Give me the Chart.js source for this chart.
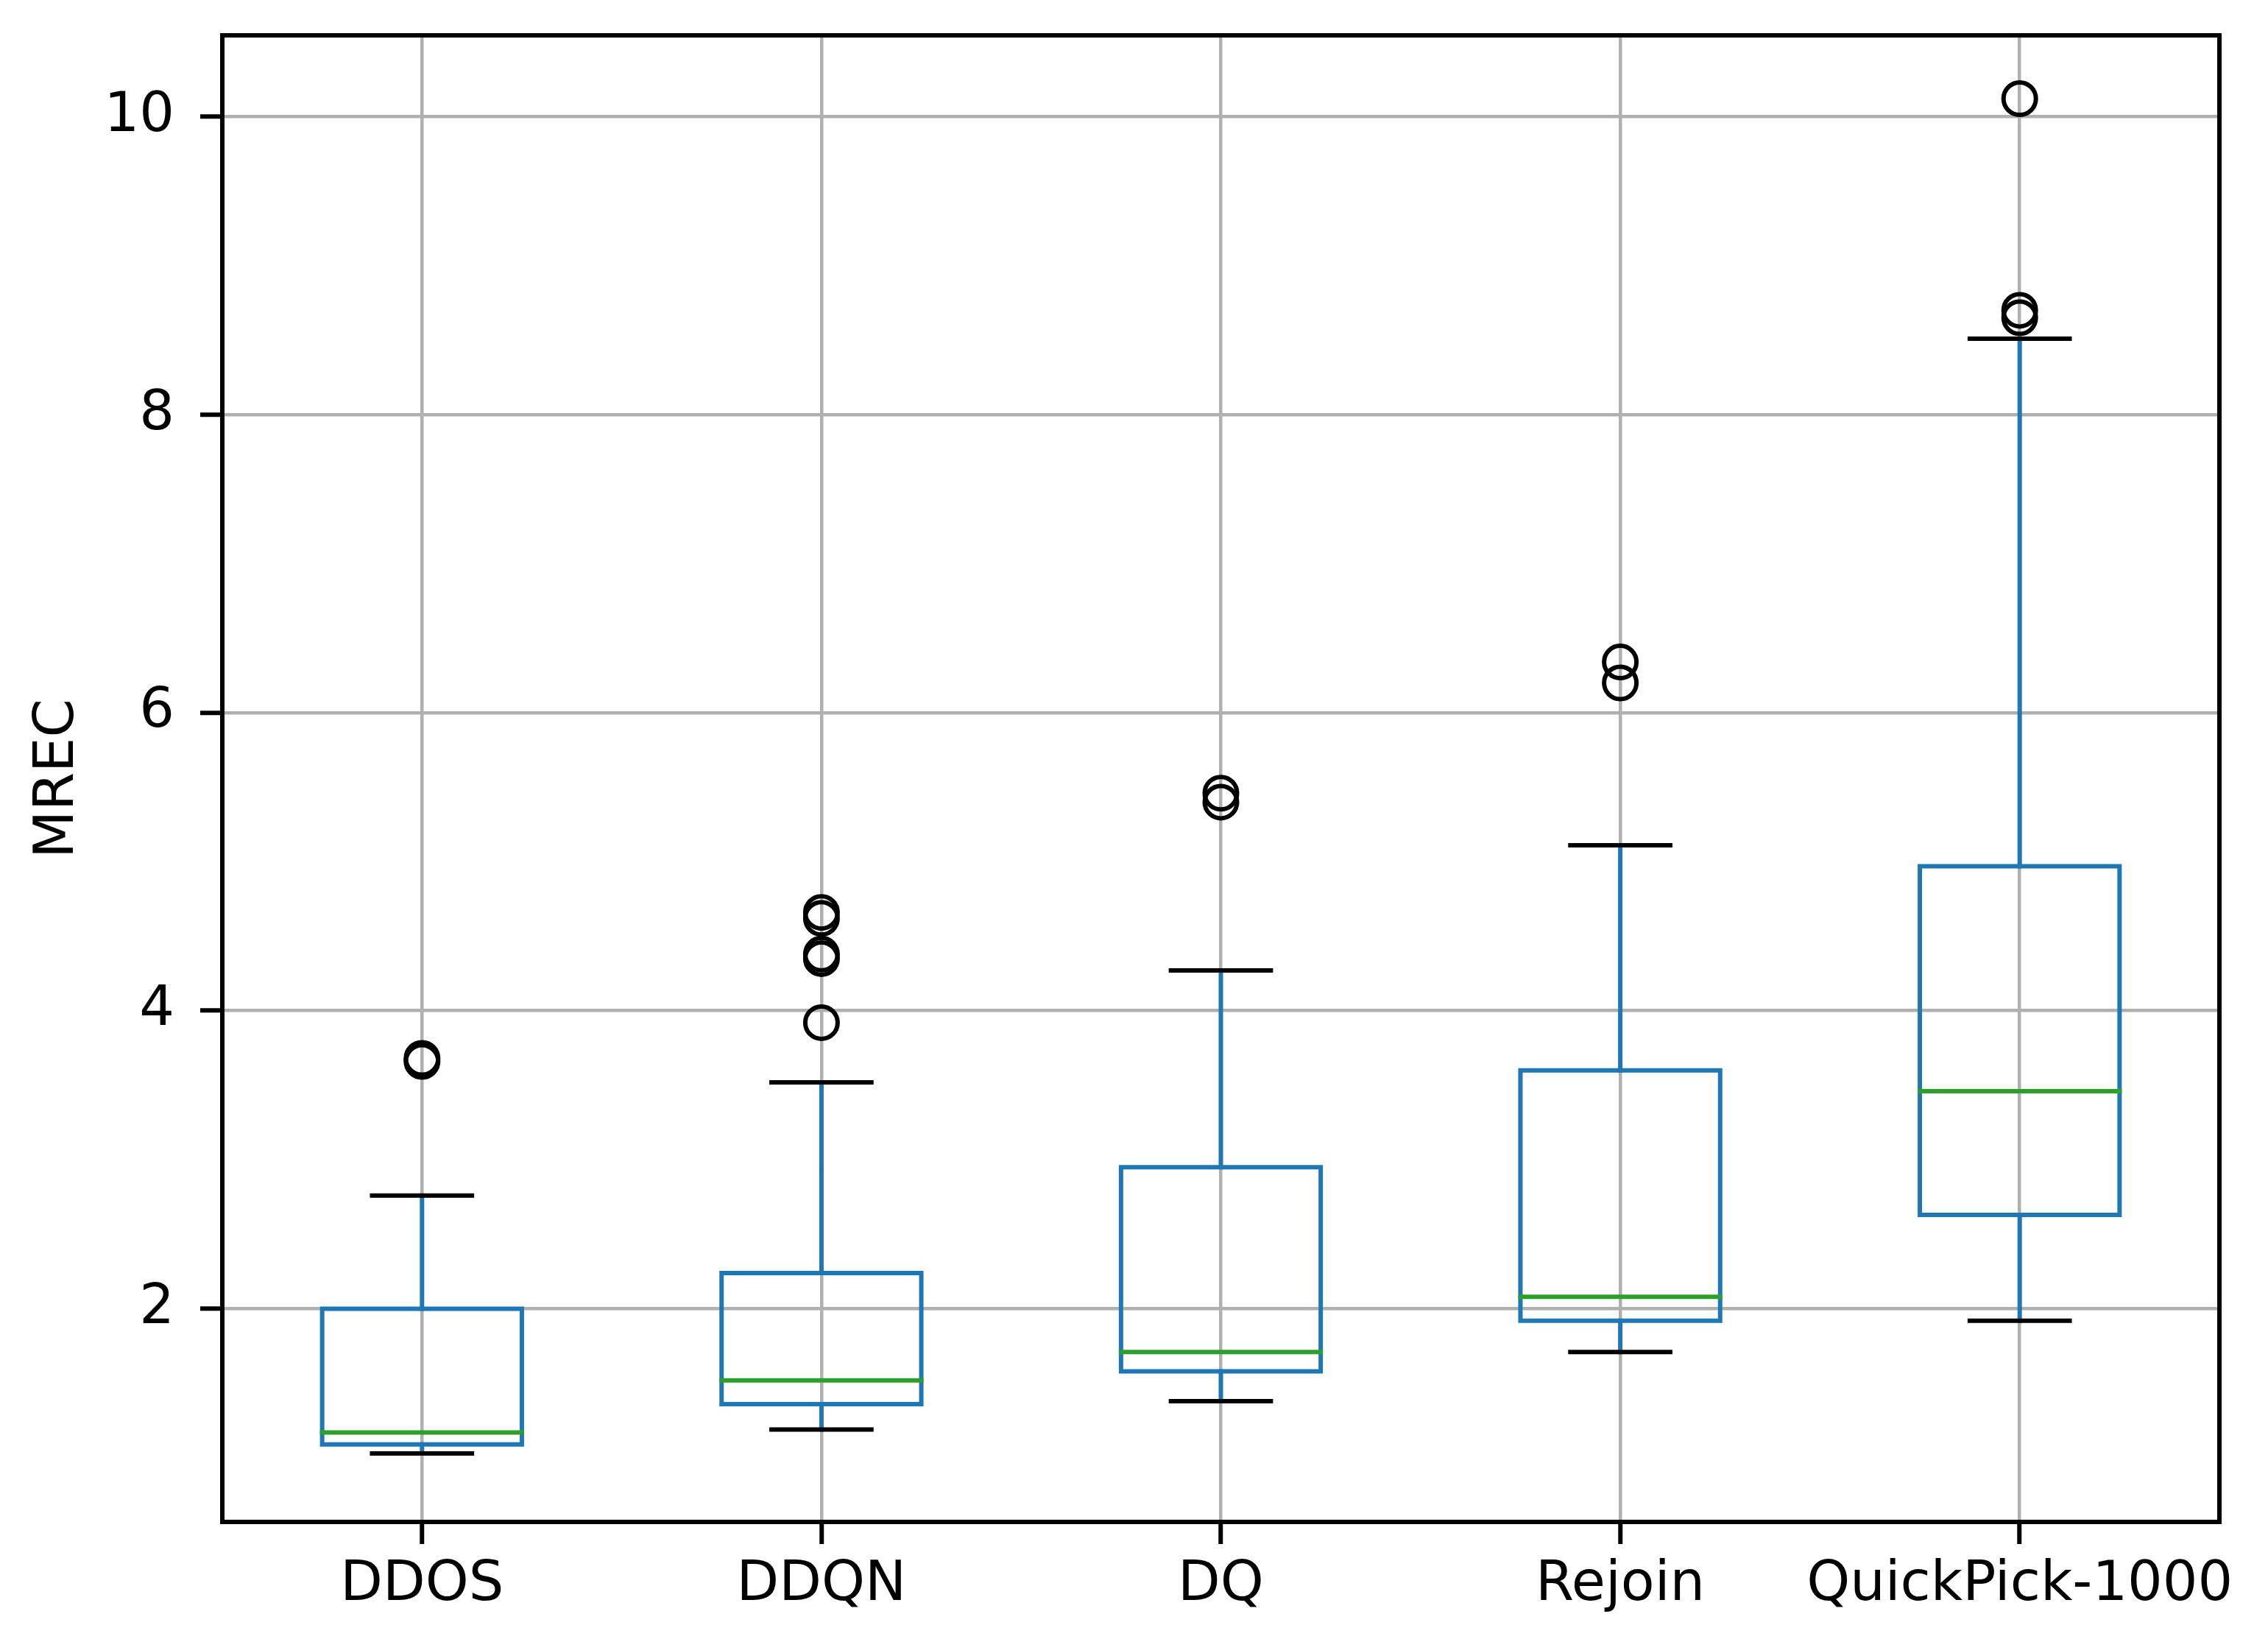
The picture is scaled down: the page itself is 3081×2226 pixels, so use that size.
<!DOCTYPE html>
<html>
<head>
<meta charset="utf-8">
<script src="https://cdn.jsdelivr.net/npm/chart.js@4.4.1/dist/chart.umd.min.js"></script>
<style>
  html, body { margin: 0; padding: 0; background: #fff; }
  canvas { display: block; }
</style>
</head>
<body>
<canvas id="mrecChart" width="3081" height="2226"></canvas>
<script>
// values
const categories = ["DDOS", "DDQN", "DQ", "Rejoin", "QuickPick-1000"];
const whiskLow  = [1.03, 1.19, 1.38, 1.71, 1.92];
const q1        = [1.09, 1.36, 1.58, 1.92, 2.63];
const median    = [1.17, 1.52, 1.71, 2.08, 3.46];
const q3        = [2.00, 2.24, 2.95, 3.60, 4.97];
const whiskHigh = [2.76, 3.52, 4.27, 5.11, 8.51];
const outliers  = [
  [3.66, 3.68],
  [3.92, 4.35, 4.38, 4.62, 4.66],
  [5.40, 5.46],
  [6.20, 6.34],
  [8.65, 8.70, 10.12]
];
const yTicks = [2, 4, 6, 8, 10];

const halfBox = 0.25;
const halfCap = 0.125;
const gap = (x) => ({ x: x, y: null });

const boxPts = [], medianPts = [], whiskerPts = [], capPts = [], outlierPts = [];
categories.forEach((name, i) => {
  const x = i + 1;
  boxPts.push(
    { x: x - halfBox, y: q1[i] }, { x: x + halfBox, y: q1[i] },
    { x: x + halfBox, y: q3[i] }, { x: x - halfBox, y: q3[i] },
    { x: x - halfBox, y: q1[i] }, gap(x)
  );
  medianPts.push({ x: x - halfBox, y: median[i] }, { x: x + halfBox, y: median[i] }, gap(x));
  whiskerPts.push(
    { x: x, y: q3[i] }, { x: x, y: whiskHigh[i] }, gap(x),
    { x: x, y: q1[i] }, { x: x, y: whiskLow[i] }, gap(x)
  );
  capPts.push(
    { x: x - halfCap, y: whiskHigh[i] }, { x: x + halfCap, y: whiskHigh[i] }, gap(x),
    { x: x - halfCap, y: whiskLow[i] }, { x: x + halfCap, y: whiskLow[i] }, gap(x)
  );
  outliers[i].forEach((v) => outlierPts.push({ x: x, y: v }));
});

function segments(data, color) {
  return {
    data: data,
    showLine: true,
    spanGaps: false,
    borderColor: color,
    borderWidth: 6,
    pointRadius: 0,
    borderJoinStyle: "miter",
    borderCapStyle: "square",
    tension: 0
  };
}

const framePlugin = {
  id: "frame",
  afterDatasetsDraw(chart) {
    const a = chart.chartArea;
    const ctx = chart.ctx;
    ctx.save();
    ctx.strokeStyle = "#000";
    ctx.lineWidth = 6;
    ctx.strokeRect(a.left, a.top, a.right - a.left, a.bottom - a.top);
    ctx.restore();
  }
};

const font = { family: "DejaVu Sans", size: 75 };

new Chart(document.getElementById("mrecChart"), {
  type: "scatter",
  data: {
    datasets: [
      {
        data: outlierPts,
        showLine: false,
        pointStyle: "circle",
        pointRadius: 22,
        pointBorderWidth: 6,
        pointBorderColor: "#000",
        pointBackgroundColor: "rgba(0,0,0,0)"
      },
      segments(medianPts, "#2ca02c"),
      segments(boxPts, "#1f77b4"),
      segments(capPts, "#000"),
      segments(whiskerPts, "#1f77b4")
    ]
  },
  options: {
    responsive: false,
    animation: false,
    devicePixelRatio: 1,
    layout: { padding: { left: 0, top: 48, right: 66, bottom: 0 } },
    plugins: { legend: { display: false }, tooltip: { enabled: false } },
    scales: {
      x: {
        type: "linear",
        min: 0.5,
        max: 5.5,
        afterBuildTicks: (scale) => { scale.ticks = categories.map((c, i) => ({ value: i + 1 })); },
        afterFit: (scale) => { scale.height = 159; scale.paddingLeft = 0; scale.paddingRight = 0; },
        ticks: {
          font: font,
          color: "#000",
          padding: 12,
          maxRotation: 0,
          autoSkip: false,
          callback: (v) => categories[v - 1]
        },
        grid: { color: "#b0b0b0", lineWidth: 4.5, tickLength: 30, tickColor: "#000", tickWidth: 6 },
        border: { display: false }
      },
      y: {
        type: "linear",
        min: 0.57,
        max: 10.545,
        afterBuildTicks: (scale) => { scale.ticks = yTicks.map((v) => ({ value: v })); },
        afterFit: (scale) => { scale.width = 302; scale.paddingTop = 0; scale.paddingBottom = 0; },
        ticks: { font: font, color: "#000", padding: 35 },
        grid: { color: "#b0b0b0", lineWidth: 4.5, tickLength: 30, tickColor: "#000", tickWidth: 6 },
        border: { display: false },
        title: { display: true, text: "MREC", font: font, color: "#000", padding: { top: 35, bottom: 0 } }
      }
    }
  },
  plugins: [framePlugin]
});
</script>
</body>
</html>
